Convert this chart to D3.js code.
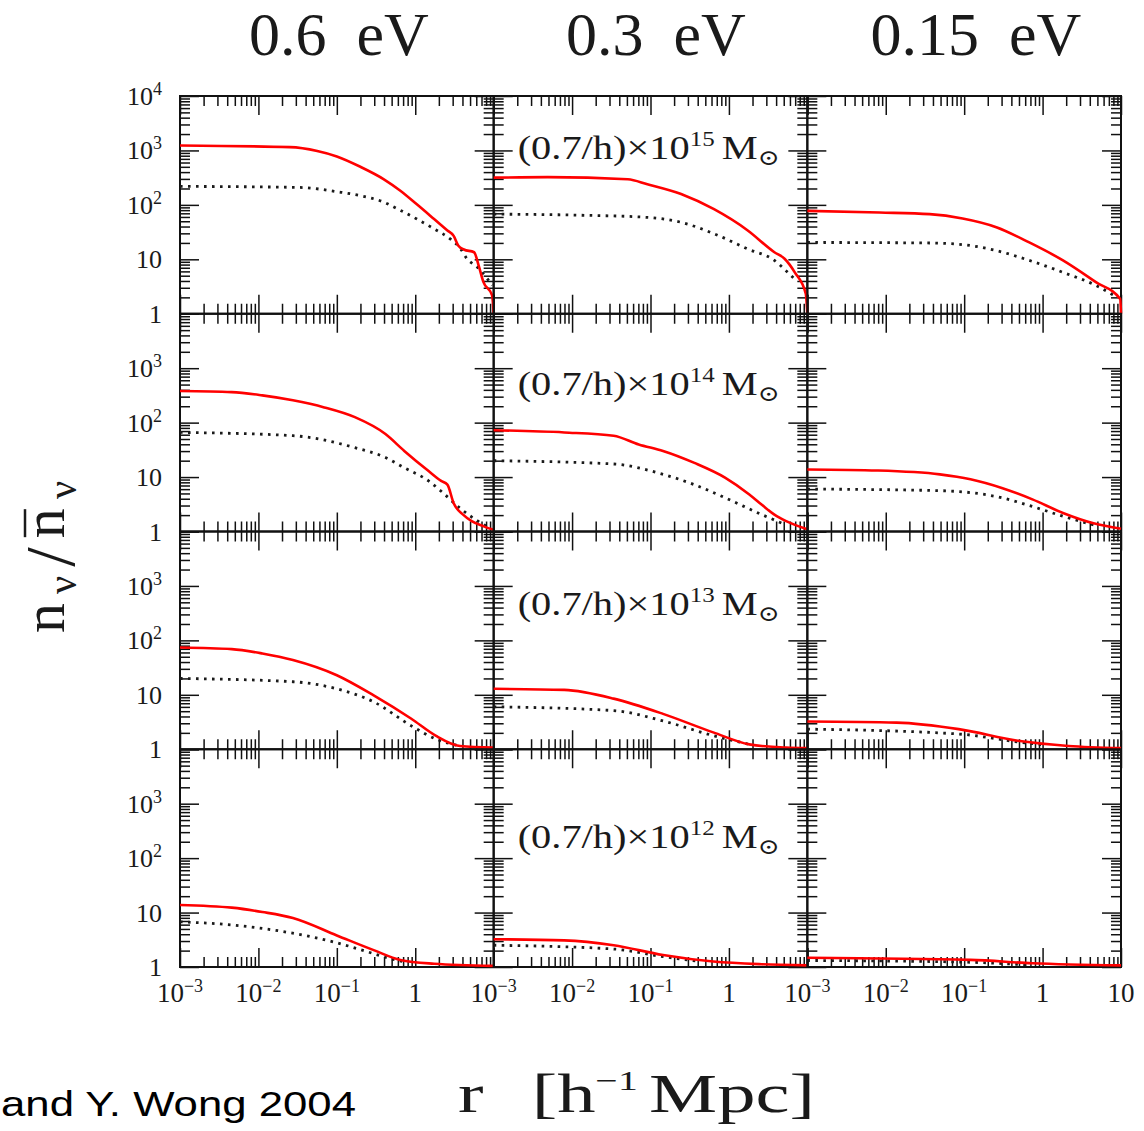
<!DOCTYPE html>
<html>
<head>
<meta charset="utf-8">
<script src="https://cdn.jsdelivr.net/npm/d3@7"></script>
<style>
  body { margin: 0; background: #fff; }
  svg { display: block; }
  text { font-family: "Liberation Serif", "DejaVu Serif", serif; fill: #1a1a1a; }
</style>
</head>
<body>
<div id="chart"></div>
<script>
// Step 1.
// Data

// columns: neutrino mass, rows: halo mass exponent
const neutrinoMasses = ["0.6", "0.3", "0.15"];
const haloExponents = ["15", "14", "13", "12"];

// decade exponents used for the tick labels
const yTickExp = [0, 1, 2, 3, 4];
const xTickExp = [-3, -2, -1, 0, 1];

// curves: one list per column, points are [log10 r, log10 n/nbar]
// solid red = simulation, dotted = approximation
const solid15 = [
  [[-3, 3.09], [-1.6, 3.06], [-1.25, 2.99], [-1, 2.89], [-0.7, 2.70], [-0.4, 2.47], [-0.19, 2.26], [0.02, 2.01], [0.24, 1.74], [0.41, 1.53], [0.49, 1.43], [0.55, 1.25], [0.62, 1.18], [0.75, 1.13], [0.81, 0.88], [0.87, 0.58], [0.98, 0.34], [1, 0]],
  [[-3, 2.50], [-2.31, 2.51], [-1.29, 2.47], [-1.04, 2.38], [-0.61, 2.20], [-0.19, 1.92], [0.24, 1.53], [0.58, 1.13], [0.71, 1.01], [0.84, 0.76], [0.98, 0.37], [1, 0]],
  [[-3, 1.89], [-2.08, 1.86], [-1.44, 1.83], [-1.02, 1.75], [-0.59, 1.59], [-0.17, 1.31], [0.26, 0.98], [0.68, 0.58], [0.99, 0.27], [1, 0]]
];
const dotted15 = [
  [[-3, 2.34], [-1.47, 2.32], [-0.99, 2.24], [-0.7, 2.17], [-0.4, 2.05], [-0.19, 1.90], [0.02, 1.74], [0.24, 1.56], [0.45, 1.37], [0.58, 1.19], [0.66, 1.01], [0.79, 0.86], [0.92, 0.64], [0.98, 0.52]],
  [[-3, 1.83], [-1.89, 1.81], [-1.04, 1.77], [-0.61, 1.68], [-0.19, 1.47], [0.24, 1.19], [0.58, 0.98], [0.75, 0.76], [0.85, 0.62]],
  [[-3, 1.31], [-1.44, 1.30], [-1.02, 1.27], [-0.59, 1.16], [-0.17, 0.98], [0.26, 0.76], [0.68, 0.52], [0.94, 0.31]]
];

const solid14 = [
  [[-3, 2.58], [-2.34, 2.56], [-1.95, 2.50], [-1.56, 2.41], [-1.16, 2.28], [-0.77, 2.10], [-0.38, 1.79], [-0.14, 1.48], [0.17, 1.11], [0.33, 0.93], [0.41, 0.86], [0.49, 0.52], [0.61, 0.31], [0.72, 0.19], [0.88, 0.09], [1, 0.03]],
  [[-3, 1.86], [-2.1, 1.82], [-1.47, 1.76], [-1.15, 1.60], [-0.84, 1.48], [-0.44, 1.26], [-0.05, 0.99], [0.26, 0.68], [0.42, 0.49], [0.58, 0.31], [0.73, 0.19], [1, 0.04]],
  [[-3, 1.14], [-2.1, 1.12], [-1.31, 1.05], [-0.92, 0.96], [-0.52, 0.80], [-0.13, 0.59], [0.26, 0.34], [0.65, 0.15], [1, 0.05]]
];
const dotted14 = [
  [[-3, 1.82], [-1.56, 1.76], [-0.77, 1.54], [-0.38, 1.36], [-0.14, 1.17], [0.17, 0.93], [0.33, 0.74], [0.57, 0.43], [0.8, 0.19], [0.96, 0.06]],
  [[-3, 1.30], [-1.47, 1.24], [-0.84, 1.05], [-0.44, 0.86], [-0.05, 0.62], [0.42, 0.31], [0.73, 0.12]],
  [[-3, 0.78], [-1.31, 0.75], [-0.52, 0.62], [-0.13, 0.46], [0.26, 0.28], [0.65, 0.12]]
];

const solid13 = [
  [[-3, 1.87], [-2.34, 1.84], [-1.95, 1.76], [-1.56, 1.64], [-1, 1.36], [-0.53, 0.99], [-0.05, 0.56], [0.26, 0.25], [0.57, 0.06], [1, 0.03]],
  [[-3, 1.11], [-2.1, 1.09], [-1.47, 0.93], [-0.84, 0.65], [-0.2, 0.31], [0.26, 0.09], [0.73, 0.03], [1, 0.02]],
  [[-3, 0.51], [-1.86, 0.49], [-1.07, 0.37], [-0.29, 0.15], [0.33, 0.06], [1, 0.02]]
];
const dotted13 = [
  [[-3, 1.30], [-1.56, 1.24], [-1, 1.11], [-0.53, 0.87], [-0.05, 0.43], [0.26, 0.19], [0.57, 0.06]],
  [[-3, 0.78], [-1.47, 0.71], [-0.84, 0.52], [-0.2, 0.25], [0.26, 0.09]],
  [[-3, 0.37], [-1.07, 0.28], [-0.29, 0.13], [0.03, 0.08]]
];

const solid12 = [
  [[-3, 1.14], [-2.34, 1.09], [-1.95, 1.01], [-1.56, 0.90], [-1, 0.58], [-0.53, 0.31], [-0.19, 0.13], [0.24, 0.06], [1, 0.02]],
  [[-3, 0.51], [-2.1, 0.49], [-1.47, 0.40], [-0.84, 0.22], [-0.2, 0.10], [0.42, 0.05], [1, 0.03]],
  [[-3, 0.17], [-0.92, 0.13], [-0.13, 0.07], [1, 0.03]]
];
const dotted12 = [
  [[-3, 0.83], [-2.32, 0.77], [-1.68, 0.65], [-1.04, 0.46], [-0.61, 0.28], [-0.41, 0.19], [-0.1, 0.08]],
  [[-3, 0.40], [-1.47, 0.33], [-0.84, 0.19], [-0.36, 0.10]],
  [[-3, 0.12], [-1, 0.09], [-0.2, 0.04]]
];

const solids = [solid15, solid14, solid13, solid12];
const dotteds = [dotted15, dotted14, dotted13, dotted12];

// Step 2.
// SVG area
const svgWidth = 1144;
const svgHeight = 1131;
const margin = { top: 96, right: 23, bottom: 164, left: 180 };
const width = svgWidth - margin.left - margin.right;
const height = svgHeight - margin.top - margin.bottom;
const panelW = width / 3;
const panelH = height / 4;

const svg = d3.select("#chart")
  .append("svg")
  .attr("width", svgWidth)
  .attr("height", svgHeight);

const chartGroup = svg.append("g")
  .attr("transform", `translate(${margin.left}, ${margin.top})`);

const xScale = d3.scaleLog().domain([1e-3, 10]).range([0, panelW]);
const yScale = d3.scaleLog().domain([1, 1e4]).range([panelH, 0]);

const majorX = xTickExp.map(e => 10 ** e);
const minorX = d3.range(-3, 1).flatMap(e => d3.range(2, 10).map(k => k * 10 ** e));
const majorY = yTickExp.map(e => 10 ** e);
const minorY = d3.range(0, 4).flatMap(e => d3.range(2, 10).map(k => k * 10 ** e));

const curve = d3.line()
  .x(d => xScale(10 ** d[0]))
  .y(d => yScale(10 ** d[1]))
  .curve(d3.curveMonotoneX);

// inward ticks on one side of a panel
function drawTicks(panel, axisFn, scale, values, size, shift) {
  panel.append("g")
    .attr("transform", shift)
    .call(axisFn(scale).tickValues(values).tickSizeInner(-size).tickSizeOuter(0).tickFormat(""))
    .call(g => g.select(".domain").remove())
    .call(g => g.selectAll("text").remove())
    .selectAll("line")
    .attr("stroke", "#111")
    .attr("stroke-width", 1.5);
}

// "10^e" style label
function powerLabel(sel, e) {
  if (e === 0) { sel.text("1"); return; }
  if (e === 1) { sel.text("10"); return; }
  sel.append("tspan").text("10");
  sel.append("tspan")
    .attr("font-size", 18)
    .attr("dy", -10)
    .text(e < 0 ? "\u2212" + (-e) : e);
}

haloExponents.forEach((hm, row) => {
  neutrinoMasses.forEach((nu, col) => {
    const panel = chartGroup.append("g")
      .attr("transform", `translate(${col * panelW}, ${row * panelH})`);

    [[majorX, 19], [minorX, 10]].forEach(([vals, size]) => {
      drawTicks(panel, d3.axisBottom, xScale, vals, size, `translate(0, ${panelH})`);
      drawTicks(panel, d3.axisTop, xScale, vals, size, "translate(0, 0)");
    });
    [[majorY, 19], [minorY, 10]].forEach(([vals, size]) => {
      drawTicks(panel, d3.axisLeft, yScale, vals, size, "translate(0, 0)");
      drawTicks(panel, d3.axisRight, yScale, vals, size, `translate(${panelW}, 0)`);
    });

    panel.append("rect")
      .attr("width", panelW)
      .attr("height", panelH)
      .attr("fill", "none")
      .attr("stroke", "#111")
      .attr("stroke-width", 2);

    panel.append("path")
      .attr("d", curve(dotteds[row][col]))
      .attr("fill", "none")
      .attr("stroke", "#1a1a1a")
      .attr("stroke-width", 2.8)
      .attr("stroke-dasharray", "2.6 5.4");

    panel.append("path")
      .attr("d", curve(solids[row][col]))
      .attr("fill", "none")
      .attr("stroke", "#ff0000")
      .attr("stroke-width", 2.6);
  });

  // halo mass label in the middle column
  const labelY = [51, 69, 71, 87][row];
  const lab = chartGroup.append("text")
    .attr("x", panelW + 24)
    .attr("y", row * panelH + labelY + 12)
    .attr("font-size", 34)
    .attr("textLength", 262)
    .attr("lengthAdjust", "spacingAndGlyphs");
  lab.append("tspan").text("(0.7/h)\u00d710");
  lab.append("tspan").attr("font-size", 21).attr("dy", -13).text(hm);
  lab.append("tspan").attr("dy", 13).attr("dx", 6).text("M");
  lab.append("tspan").attr("font-size", 22).attr("dy", 6).text("\u2299");

  // y tick labels
  const exps = row === 0 ? yTickExp : yTickExp.slice(0, 4);
  exps.forEach(e => {
    chartGroup.append("text")
      .attr("x", -18)
      .attr("y", row * panelH + yScale(10 ** e) + 9)
      .attr("text-anchor", "end")
      .attr("font-size", 26)
      .call(powerLabel, e);
  });
});

// x tick labels under the bottom row
neutrinoMasses.forEach((nu, col) => {
  const exps = col === 2 ? xTickExp : xTickExp.slice(0, 4);
  exps.forEach(e => {
    chartGroup.append("text")
      .attr("x", col * panelW + xScale(10 ** e))
      .attr("y", height + 35)
      .attr("text-anchor", "middle")
      .attr("font-size", 27)
      .call(powerLabel, e);
  });
});

// column titles
const titleX = [339, 656, 976];
neutrinoMasses.forEach((nu, col) => {
  const t = svg.append("text")
    .attr("x", titleX[col])
    .attr("y", 55)
    .attr("text-anchor", "middle")
    .attr("font-size", 62);
  t.append("tspan").text(nu);
  t.append("tspan").attr("dx", 30).text("eV");
});

// x axis title
const xTitle = svg.append("text")
  .attr("x", 458)
  .attr("y", 1112)
  .attr("font-size", 54)
  .attr("textLength", 357)
  .attr("lengthAdjust", "spacingAndGlyphs");
xTitle.append("tspan").text("r");
xTitle.append("tspan").attr("dx", 34).text("[h");
xTitle.append("tspan").attr("font-size", 28).attr("dy", -22).text("\u22121");
xTitle.append("tspan").attr("dy", 22).attr("dx", 8).text("Mpc]");

// y axis title
const yTitleGroup = svg.append("g")
  .attr("transform", "translate(64, 557) rotate(-90)");
const yTitle = yTitleGroup.append("text")
  .attr("text-anchor", "middle")
  .attr("font-size", 60)
  .attr("textLength", 152)
  .attr("lengthAdjust", "spacing");
yTitle.append("tspan").text("n");
yTitle.append("tspan").attr("font-size", 40).attr("dy", 12).text("\u03bd");
yTitle.append("tspan").attr("font-size", 70).attr("dy", -2).text("/");
yTitle.append("tspan").attr("dy", -10).text("n");
yTitle.append("tspan").attr("font-size", 40).attr("dy", 12).text("\u03bd");

// bar over the second n
const node = yTitle.node();
const p0 = node.getStartPositionOfChar(3);
const p1 = node.getEndPositionOfChar(3);
yTitleGroup.append("line")
  .attr("x1", p0.x + 1)
  .attr("x2", p1.x - 1)
  .attr("y1", -39)
  .attr("y2", -39)
  .attr("stroke", "#1a1a1a")
  .attr("stroke-width", 2.5);

// credit line (starts at the left edge in the original)
svg.append("text")
  .attr("x", 1)
  .attr("y", 1116)
  .attr("font-size", 35)
  .attr("textLength", 355)
  .attr("lengthAdjust", "spacingAndGlyphs")
  .style("font-family", "Liberation Sans, Arial, sans-serif")
  .style("fill", "#000")
  .text("and Y. Wong 2004");
</script>
</body>
</html>
